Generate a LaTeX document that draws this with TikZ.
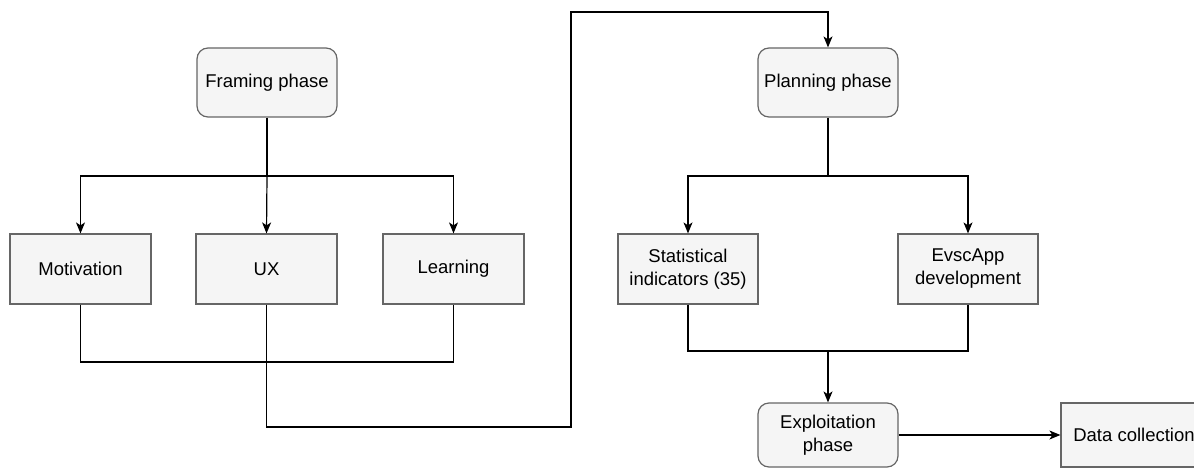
\documentclass[tikz,border=0pt]{standalone}
\usepackage{fontspec}
\setmainfont{Liberation Sans}
\usetikzlibrary{arrows.meta}

\definecolor{boxfill}{HTML}{F5F5F5}
\definecolor{boxline}{HTML}{666666}

\tikzset{
  block/.style={rectangle, draw=boxline, fill=boxfill, line width=1.2pt,
    minimum width=141pt, minimum height=70pt, inner sep=2pt,
    align=center, font=\fontsize{18.5}{23}\selectfont},
  phase/.style={block, rounded corners=11pt, minimum width=140pt},
  link/.style={line width=1.2pt, black},
  arr/.style={link, -{Stealth[length=11pt,width=9pt,inset=3pt]}}
}

\begin{document}
\begin{tikzpicture}[x=1pt,y=-1pt]
\useasboundingbox (0,0) rectangle (1194,468);

% framing side
\node [phase, minimum height=69pt] (framing) at (267,82.5) {Framing phase};
\node [block] (motiv) at (80.5,269) {Motivation};
\node [block] (ux) at (266.5,269) {UX};
\node [block] (learn) at (453.5,269) {Learning};

% planning side
\node [phase, minimum height=69pt] (planning) at (828,82.5) {Planning phase};
\node [block, minimum width=140pt] (stat) at (688,269) {Statistical\\indicators (35)};
\node [block, minimum width=140pt] (evsc) at (968,269) {EvscApp\\development};
\node [phase, minimum height=64pt] (exploit) at (828,435) {Exploitation\\phase};
\node [block, minimum width=146pt, minimum height=64pt] (data) at (1134,435) {Data collection};

\coordinate (fj) at (267,176);
\coordinate (lb) at (267,362);
\coordinate (uxr) at (571,427);
\coordinate (top) at (571,12);
\coordinate (pj) at (828,176);
\coordinate (rb) at (828,351);

\draw [link] (framing.south) -- (fj);
\draw [arr] (fj) -| (motiv.north);
\draw [arr] (fj) -- (ux.north);
\draw [arr] (fj) -| (learn.north);
\draw [link] (motiv.south) |- (lb) -| (learn.south);
\draw [arr] (ux.south) |- (uxr) -- (top) -| (planning.north);

\draw [link] (planning.south) -- (pj);
\draw [arr] (pj) -| (stat.north);
\draw [arr] (pj) -| (evsc.north);
\draw [link] (stat.south) |- (rb) -| (evsc.south);
\draw [arr] (rb) -- (exploit.north);
\draw [arr] (exploit.east) -- (data.west);
\end{tikzpicture}
\end{document}
